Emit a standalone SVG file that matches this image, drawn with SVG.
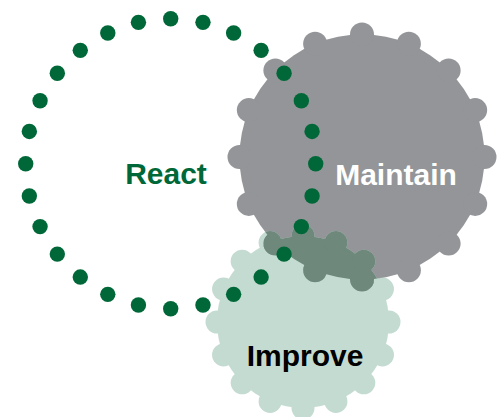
<svg xmlns="http://www.w3.org/2000/svg" width="501" height="417" viewBox="0 0 501 417">
  <style>
    .gray { fill: #939598; }
    .green { fill: #c4dbd1; }
    .overlap { fill: #6e887c; }
    .dot { fill: #006838; }
    .label { font-family: "Liberation Sans", Arial, sans-serif; font-weight: bold; font-size: 30px; text-anchor: middle; }
  </style>
  <defs>
    <clipPath id="grayClip">
      <circle cx="362" cy="157" r="122.5"/>
      <circle cx="484.5" cy="157" r="12"/>
      <circle cx="475.18" cy="203.88" r="12"/>
      <circle cx="448.62" cy="243.62" r="12"/>
      <circle cx="408.88" cy="270.18" r="12"/>
      <circle cx="362" cy="279.5" r="12"/>
      <circle cx="315.12" cy="270.18" r="12"/>
      <circle cx="275.38" cy="243.62" r="12"/>
      <circle cx="248.82" cy="203.88" r="12"/>
      <circle cx="239.5" cy="157" r="12"/>
      <circle cx="248.82" cy="110.12" r="12"/>
      <circle cx="275.38" cy="70.38" r="12"/>
      <circle cx="315.12" cy="43.82" r="12"/>
      <circle cx="362" cy="34.5" r="12"/>
      <circle cx="408.88" cy="43.82" r="12"/>
      <circle cx="448.62" cy="70.38" r="12"/>
      <circle cx="475.18" cy="110.12" r="12"/>
    </clipPath>
    <g id="greenGear">
      <circle cx="303" cy="322" r="86"/>
      <circle cx="389" cy="322" r="11.5"/>
      <circle cx="382.45" cy="354.91" r="11.5"/>
      <circle cx="363.81" cy="382.81" r="11.5"/>
      <circle cx="335.91" cy="401.45" r="11.5"/>
      <circle cx="303" cy="408" r="11.5"/>
      <circle cx="270.09" cy="401.45" r="11.5"/>
      <circle cx="242.19" cy="382.81" r="11.5"/>
      <circle cx="223.55" cy="354.91" r="11.5"/>
      <circle cx="217" cy="322" r="11.5"/>
      <circle cx="223.55" cy="289.09" r="11.5"/>
      <circle cx="242.19" cy="261.19" r="11.5"/>
      <circle cx="270.09" cy="242.55" r="11.5"/>
      <circle cx="303" cy="236" r="11.5"/>
      <circle cx="335.91" cy="242.55" r="11.5"/>
      <circle cx="363.81" cy="261.19" r="11.5"/>
      <circle cx="382.45" cy="289.09" r="11.5"/>
    </g>
  </defs>

  <g id="maintain">
    <g class="gray">
      <circle cx="362" cy="157" r="122.5"/>
      <circle cx="484.5" cy="157" r="12"/>
      <circle cx="475.18" cy="203.88" r="12"/>
      <circle cx="448.62" cy="243.62" r="12"/>
      <circle cx="408.88" cy="270.18" r="12"/>
      <circle cx="362" cy="279.5" r="12"/>
      <circle cx="315.12" cy="270.18" r="12"/>
      <circle cx="275.38" cy="243.62" r="12"/>
      <circle cx="248.82" cy="203.88" r="12"/>
      <circle cx="239.5" cy="157" r="12"/>
      <circle cx="248.82" cy="110.12" r="12"/>
      <circle cx="275.38" cy="70.38" r="12"/>
      <circle cx="315.12" cy="43.82" r="12"/>
      <circle cx="362" cy="34.5" r="12"/>
      <circle cx="408.88" cy="43.82" r="12"/>
      <circle cx="448.62" cy="70.38" r="12"/>
      <circle cx="475.18" cy="110.12" r="12"/>
    </g>
  </g>

  <g id="improve">
    <use href="#greenGear" class="green"/>
    <g clip-path="url(#grayClip)">
      <use href="#greenGear" class="overlap"/>
    </g>
  </g>

  <g id="react">
    <g class="dot">
      <circle cx="315.7" cy="163.7" r="7.7"/>
      <circle cx="312.06" cy="195.97" r="7.7"/>
      <circle cx="301.34" cy="226.61" r="7.7"/>
      <circle cx="284.07" cy="254.11" r="7.7"/>
      <circle cx="261.11" cy="277.07" r="7.7"/>
      <circle cx="233.61" cy="294.34" r="7.7"/>
      <circle cx="202.97" cy="305.06" r="7.7"/>
      <circle cx="170.7" cy="308.7" r="7.7"/>
      <circle cx="138.43" cy="305.06" r="7.7"/>
      <circle cx="107.79" cy="294.34" r="7.7"/>
      <circle cx="80.29" cy="277.07" r="7.7"/>
      <circle cx="57.33" cy="254.11" r="7.7"/>
      <circle cx="40.06" cy="226.61" r="7.7"/>
      <circle cx="29.34" cy="195.97" r="7.7"/>
      <circle cx="25.7" cy="163.7" r="7.7"/>
      <circle cx="29.34" cy="131.43" r="7.7"/>
      <circle cx="40.06" cy="100.79" r="7.7"/>
      <circle cx="57.33" cy="73.29" r="7.7"/>
      <circle cx="80.29" cy="50.33" r="7.7"/>
      <circle cx="107.79" cy="33.06" r="7.7"/>
      <circle cx="138.43" cy="22.34" r="7.7"/>
      <circle cx="170.7" cy="18.7" r="7.7"/>
      <circle cx="202.97" cy="22.34" r="7.7"/>
      <circle cx="233.61" cy="33.06" r="7.7"/>
      <circle cx="261.11" cy="50.33" r="7.7"/>
      <circle cx="284.07" cy="73.29" r="7.7"/>
      <circle cx="301.34" cy="100.79" r="7.7"/>
      <circle cx="312.06" cy="131.43" r="7.7"/>
    </g>
  </g>

  <g id="labels">
    <text class="label" x="166" y="184" font-size="29" fill="#006838">React</text>
    <text class="label" x="396" y="185" fill="#ffffff">Maintain</text>
    <text class="label" x="305" y="366" fill="#000000">Improve</text>
  </g>
  <g id="connectors"/>
</svg>
